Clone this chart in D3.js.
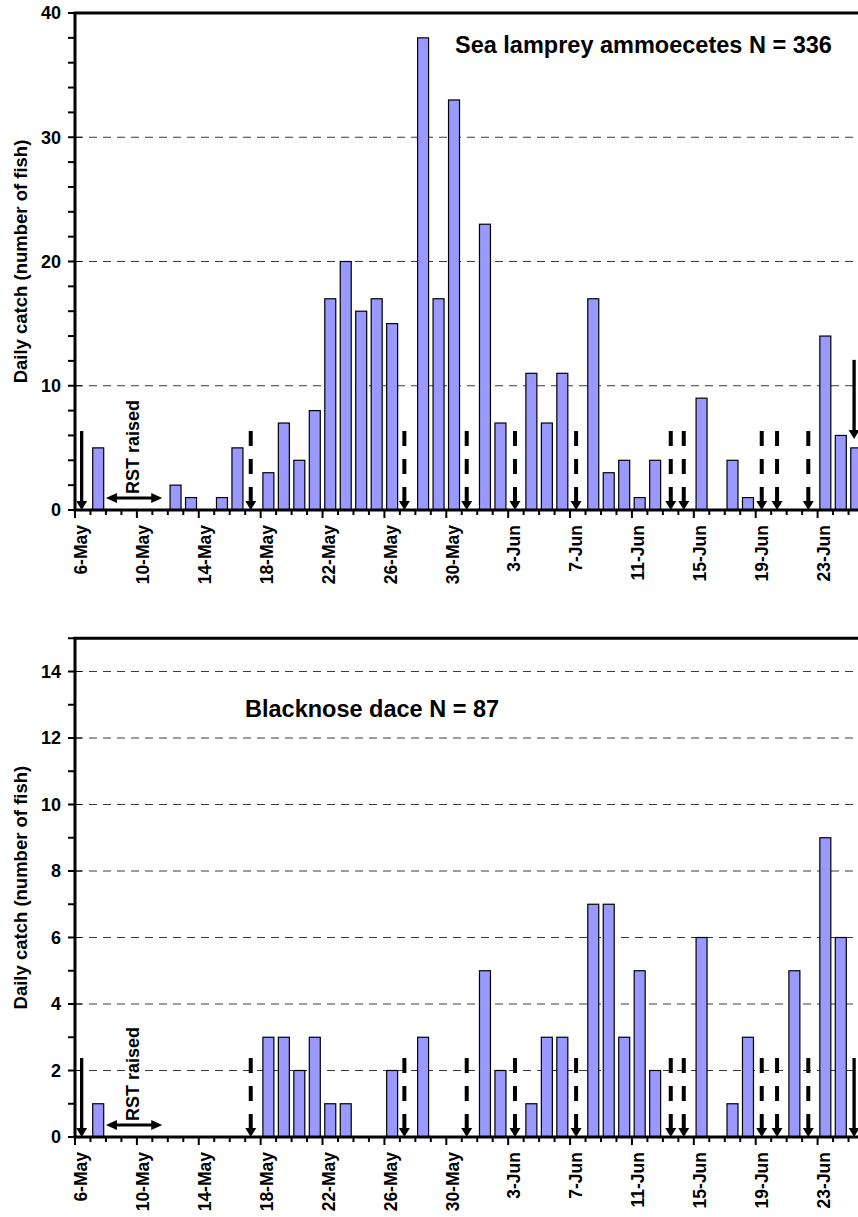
<!DOCTYPE html>
<html>
<head>
<meta charset="utf-8">
<script src="https://cdn.jsdelivr.net/npm/d3@7"></script>
<style>
  body { margin: 0; background: #fff; }
  svg { display: block; font-family: "Liberation Sans", Arial, Helvetica, sans-serif; font-weight: bold; }
</style>
</head>
<body>
<svg id="chart" width="858" height="1217"></svg>
<script>
// Sampling days (one category per day)
const days = [
  "6-May","7-May","8-May","9-May","10-May","11-May","12-May","13-May","14-May","15-May",
  "16-May","17-May","18-May","19-May","20-May","21-May","22-May","23-May","24-May","25-May",
  "26-May","27-May","28-May","29-May","30-May","31-May","1-Jun","2-Jun","3-Jun","4-Jun",
  "5-Jun","6-Jun","7-Jun","8-Jun","9-Jun","10-Jun","11-Jun","12-Jun","13-Jun","14-Jun",
  "15-Jun","16-Jun","17-Jun","18-Jun","19-Jun","20-Jun","21-Jun","22-Jun","23-Jun","24-Jun",
  "25-Jun"
];

// Daily catch, sea lamprey ammocoetes (N = 336)
const lampreyCatch = [
  0, 5, 0, 0, 0, 0, 2, 1, 0, 1,
  5, 0, 3, 7, 4, 8, 17, 20, 16, 17,
  15, 0, 38, 17, 33, 0, 23, 7, 0, 11,
  7, 11, 0, 17, 3, 4, 1, 4, 0, 0,
  9, 0, 4, 1, 0, 0, 0, 0, 14, 6,
  5
];

// Daily catch, blacknose dace (N = 87)
const daceCatch = [
  0, 1, 0, 0, 0, 0, 0, 0, 0, 0,
  0, 0, 3, 3, 2, 3, 1, 1, 0, 0,
  2, 0, 3, 0, 0, 0, 5, 2, 0, 1,
  3, 3, 0, 7, 7, 3, 5, 2, 0, 0,
  6, 0, 1, 3, 0, 0, 5, 0, 9, 6,
  0
];

// Labelled days on the x axis
const dayTickLabels = ["6-May","10-May","14-May","18-May","22-May","26-May","30-May",
                       "3-Jun","7-Jun","11-Jun","15-Jun","19-Jun","23-Jun"];

// Y axis ticks
const lampreyYTicks = [0, 10, 20, 30, 40];
const daceYTicks = [0, 2, 4, 6, 8, 10, 12, 14];

// Event arrows: day and position within the day (fraction of a day)
const eventDays  = ["6-May","17-May","27-May","31-May","3-Jun","7-Jun","13-Jun","14-Jun","19-Jun","20-Jun","22-Jun","25-Jun"];
const eventAt    = [0.43, 0.36, 0.29, 0.32, 0.44, 0.39, 0.51, 0.35, 0.39, 0.38, 0.40, 0.36];
const eventStyle = ["solid","dashed","dashed","dashed","dashed","dashed","dashed","dashed","dashed","dashed","dashed","solid"];

// Period when the rotary screw trap was raised
const rstPeriod = { from: "8-May", fromAt: 0.0, to: "11-May", toAt: 0.64, labelDay: "10-May", labelAt: 0.16, text: "RST raised" };

// ---- layout ----
const svg = d3.select("#chart");
const plotLeft = 75, plotRight = 864;

const x = d3.scaleBand().domain(days).range([plotLeft, plotRight]).padding(0);
const step = x.step();
const barW = step * 0.71;
const pos = (day, at) => x(day) + at * step;

const panels = [
  { series: lampreyCatch, yMax: 40, major: lampreyYTicks, minorStep: 2, top: 13, bottom: 510,
    title: "Sea lamprey ammoecetes N = 336", titleX: 455, titleY: 53 },
  { series: daceCatch, yMax: 15, major: daceYTicks, minorStep: 1, top: 638.25, bottom: 1137,
    title: "Blacknose dace N = 87", titleX: 245, titleY: 717 }
];

panels.forEach(p => {
  const y = d3.scaleLinear().domain([0, p.yMax]).range([p.bottom, p.top]);
  const g = svg.append("g");
  const valueOf = d => p.series[days.indexOf(d)];

  // dashed gridlines
  g.append("g").selectAll("line")
    .data(p.major.filter(v => v > 0 && v < p.yMax))
    .join("line")
    .attr("x1", plotLeft).attr("x2", plotRight)
    .attr("y1", d => y(d)).attr("y2", d => y(d))
    .attr("stroke", "#3a3a3a").attr("stroke-width", 1)
    .attr("stroke-dasharray", "8,6");

  // bars
  g.append("g").selectAll("rect")
    .data(days.map((d, i) => ({ day: d, v: p.series[i] })).filter(d => d.v > 0))
    .join("rect")
    .attr("x", d => x(d.day) + (step - barW) / 2)
    .attr("width", barW)
    .attr("y", d => y(d.v))
    .attr("height", d => y(0) - y(d.v))
    .attr("fill", "#9999ff")
    .attr("stroke", "#000").attr("stroke-width", 1.2);

  // frame: left axis, top border, baseline
  g.append("rect")
    .attr("x", plotLeft).attr("y", p.top)
    .attr("width", plotRight - plotLeft).attr("height", p.bottom - p.top)
    .attr("fill", "none").attr("stroke", "#000").attr("stroke-width", 3);

  // y ticks
  const minor = d3.range(0, p.yMax + 0.001, p.minorStep).filter(v => !p.major.includes(v));
  g.append("g").selectAll("line").data(minor).join("line")
    .attr("x1", plotLeft - 7).attr("x2", plotLeft)
    .attr("y1", d => y(d)).attr("y2", d => y(d))
    .attr("stroke", "#000").attr("stroke-width", 2);
  g.append("g").selectAll("line").data(p.major).join("line")
    .attr("x1", plotLeft - 7).attr("x2", plotLeft)
    .attr("y1", d => y(d)).attr("y2", d => y(d))
    .attr("stroke", "#000").attr("stroke-width", 2);
  g.append("g").selectAll("line").data(p.major).join("line")
    .attr("x1", plotLeft).attr("x2", plotLeft + 7)
    .attr("y1", d => y(d)).attr("y2", d => y(d))
    .attr("stroke", "#000").attr("stroke-width", 1);
  g.append("g").selectAll("text").data(p.major).join("text")
    .attr("x", plotLeft - 14).attr("y", d => y(d))
    .attr("dy", "0.35em").attr("text-anchor", "end")
    .attr("font-size", 18).text(d => d);

  // x ticks at day boundaries; longer ticks at labelled days
  const bounds = d3.range(0, days.length + 1);
  g.append("g").selectAll("line").data(bounds).join("line")
    .attr("x1", i => plotLeft + i * step).attr("x2", i => plotLeft + i * step)
    .attr("y1", p.bottom).attr("y2", i => p.bottom + (i % 4 === 0 ? 8 : 5))
    .attr("stroke", "#000").attr("stroke-width", 2);
  g.append("g").selectAll("text").data(dayTickLabels).join("text")
    .attr("transform", d => `translate(${x(d) + step / 2 + 4.5},${p.bottom + 15}) rotate(-90)`)
    .attr("text-anchor", "end")
    .attr("font-size", 17.5).text(d => d);

  // y axis title
  g.append("text")
    .attr("transform", `translate(27,${(p.top + p.bottom) / 2}) rotate(-90)`)
    .attr("text-anchor", "middle").attr("font-size", 18.5)
    .text("Daily catch (number of fish)");

  // panel title
  g.append("text").attr("x", p.titleX).attr("y", p.titleY)
    .attr("font-size", 23.5).text(p.title);

  // event arrows
  const arrowLen = 79, headH = 9, headHalf = 5.5;
  eventDays.forEach((d, i) => {
    const ax = pos(d, eventAt[i]);
    const v = valueOf(d);
    const tip = v > 0 ? y(v) - 9 : y(0);
    const solid = eventStyle[i] === "solid";
    g.append("line")
      .attr("x1", ax).attr("x2", ax)
      .attr("y1", tip - arrowLen).attr("y2", tip - headH + 1)
      .attr("stroke", "#000").attr("stroke-width", solid ? 3.3 : 4)
      .attr("stroke-dasharray", solid ? null : "15,13");
    g.append("path")
      .attr("d", `M${ax - headHalf},${tip - headH}L${ax + headHalf},${tip - headH}L${ax},${tip}Z`)
      .attr("fill", "#000");
  });

  // RST raised: double-headed arrow plus label
  const rx1 = pos(rstPeriod.from, rstPeriod.fromAt), rx2 = pos(rstPeriod.to, rstPeriod.toAt);
  const ry = p.bottom - 12, hl = 11, hh = 5;
  g.append("line").attr("x1", rx1 + hl - 1).attr("x2", rx2 - hl + 1)
    .attr("y1", ry).attr("y2", ry).attr("stroke", "#000").attr("stroke-width", 3);
  g.append("path")
    .attr("d", `M${rx1},${ry}L${rx1 + hl},${ry - hh}L${rx1 + hl},${ry + hh}Z M${rx2},${ry}L${rx2 - hl},${ry - hh}L${rx2 - hl},${ry + hh}Z`)
    .attr("fill", "#000");
  g.append("text")
    .attr("transform", `translate(${pos(rstPeriod.labelDay, rstPeriod.labelAt)},${p.bottom - 16}) rotate(-90)`)
    .attr("text-anchor", "start").attr("font-size", 18)
    .text(rstPeriod.text);
});
</script>
</body>
</html>
